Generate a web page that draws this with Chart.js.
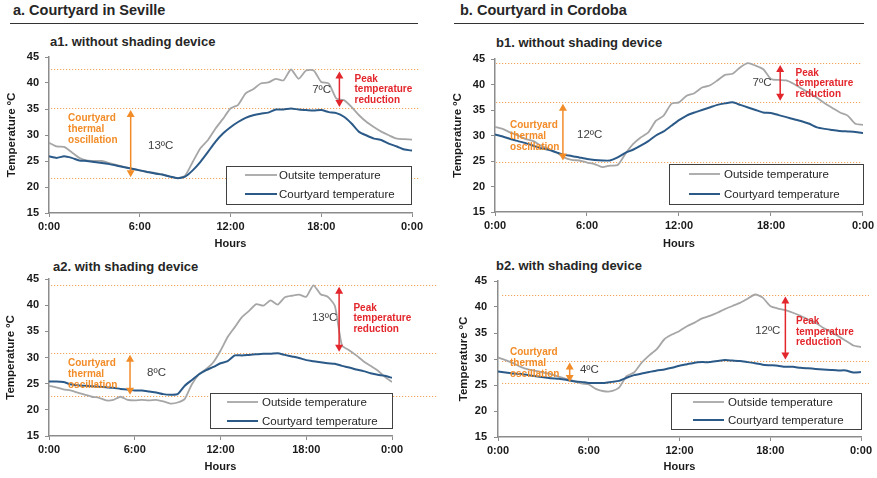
<!DOCTYPE html>
<html><head><meta charset="utf-8">
<script src="https://cdn.jsdelivr.net/npm/chart.js@4/dist/chart.umd.min.js"></script>
<style>
body{margin:0;background:#fff;width:877px;height:478px;position:relative;overflow:hidden;font-family:"Liberation Sans",Arial,sans-serif;}
.h{position:absolute;font-weight:bold;color:#262626;white-space:nowrap;line-height:1;}
.rule{position:absolute;height:0;border-top:1.5px solid #333;}
canvas{position:absolute;}
</style></head><body>
<div class="h" style="left:13px;top:3px;font-size:14.5px">a. Courtyard in Seville</div>
<div class="h" style="left:460px;top:3px;font-size:14.5px">b. Courtyard in Cordoba</div>
<div class="rule" style="left:10px;top:23px;width:408px"></div>
<div class="rule" style="left:454px;top:23px;width:410px"></div>
<div class="h" style="left:50px;top:35px;font-size:13px">a1. without shading device</div>
<div class="h" style="left:496px;top:36px;font-size:13px">b1. without shading device</div>
<div class="h" style="left:53px;top:260px;font-size:13px">a2. with shading device</div>
<div class="h" style="left:496px;top:259px;font-size:13px">b2. with shading device</div>
<canvas id="a1"></canvas><canvas id="b1"></canvas><canvas id="a2"></canvas><canvas id="b2"></canvas>
<script>
// ---- data ----
const hours = [0,0.5,1,1.5,2,2.5,3,3.5,4,4.5,5,5.5,6,6.5,7,7.5,8,8.5,9,9.5,10,10.5,11,11.5,12,12.5,13,13.5,14,14.5,15,15.5,16,16.5,17,17.5,18,18.5,19,19.5,20,20.5,21,21.5,22,22.5,23,23.5,24];
const tickLabels = ['0:00','6:00','12:00','18:00','0:00'];

const a1Outside = [28.5,27.8,27.7,26.7,25.6,25.1,25.0,25.0,24.6,24.2,23.8,23.5,23.2,22.9,22.7,22.4,22.0,21.7,22.2,24.8,27.4,29.0,31.2,33.1,35.1,35.8,38.0,38.8,39.9,40.1,40.8,40.5,42.6,40.8,42.4,42.4,40.2,39.9,37.0,36.7,35.4,33.8,32.5,31.5,30.6,29.9,29.3,29.2,29.1];
const a1Courtyard = [25.9,25.6,25.9,25.6,25.1,25.0,24.8,24.6,24.4,24.1,23.8,23.5,23.2,22.9,22.6,22.4,22.0,21.7,22.0,23.2,24.8,26.7,28.7,30.3,31.5,32.5,33.3,33.8,34.1,34.3,34.9,34.9,35.1,34.9,34.8,34.7,34.8,34.4,34.2,33.5,32.2,30.6,29.9,29.3,29.0,28.3,27.8,27.2,27.0];
const b1Outside = [31.7,31.3,30.6,30.0,29.3,28.9,28.0,27.4,26.7,25.7,25.2,25.1,24.7,24.4,23.8,24.1,24.2,26.4,28.3,29.6,30.6,32.9,33.9,36.2,36.5,37.8,38.3,39.4,39.8,40.8,41.9,42.1,43.4,44.2,43.7,43.0,41.1,40.9,40.8,40.1,39.2,38.3,37.4,36.3,35.4,34.5,33.9,32.3,32.1];
const b1Courtyard = [30.2,29.8,29.3,28.9,28.5,28.0,27.5,27.2,26.7,26.2,26.0,25.7,25.4,25.2,25.1,25.1,25.7,26.6,27.2,28.0,28.9,30.0,30.8,31.9,33.0,33.9,34.5,35.0,35.5,36.0,36.3,36.5,36.0,35.5,35.0,34.5,34.4,34.0,33.6,33.2,32.8,32.3,31.6,31.3,31.1,30.9,30.8,30.7,30.5];
const a2Outside = [24.6,24.3,23.9,23.7,23.3,22.9,22.5,22.3,21.8,21.9,22.5,21.9,21.8,21.9,21.8,21.9,21.6,21.2,21.4,22.1,24.9,26.8,27.8,29.1,31.3,33.9,35.8,37.7,38.9,40.2,39.9,40.9,40.1,41.5,41.8,42.0,41.6,43.8,42.1,41.6,39.9,32.3,31.4,30.4,29.3,28.4,27.5,26.3,25.3];
const a2Courtyard = [25.4,25.4,25.3,24.9,24.7,24.6,24.5,24.4,24.3,24.2,24.0,23.9,23.7,23.7,23.5,23.3,23.0,22.9,23.0,24.6,25.7,26.8,27.6,28.2,28.9,29.3,30.4,30.4,30.5,30.6,30.7,30.7,30.8,30.5,30.2,29.9,29.5,29.3,29.1,28.9,28.8,28.4,28.1,27.7,27.4,27.0,26.7,26.5,26.1];
const b2Outside = [30.3,29.8,29.2,28.5,28.0,27.7,27.4,27.1,26.6,26.2,25.8,25.3,25.1,24.2,23.8,23.8,24.5,26.7,27.4,29.3,30.7,31.9,33.8,34.7,35.4,36.3,37.0,37.8,38.3,38.9,39.6,40.2,40.8,41.6,42.4,41.8,40.2,39.7,39.4,38.9,38.3,37.6,37.0,36.0,35.2,34.4,33.5,32.6,32.3];
const b2Courtyard = [27.6,27.4,27.2,27.1,26.9,26.7,26.5,26.3,26.2,26.0,25.7,25.6,25.4,25.4,25.4,25.6,25.8,26.4,26.9,27.2,27.5,27.8,28.0,28.3,28.7,29.0,29.3,29.4,29.4,29.6,29.8,29.7,29.6,29.4,29.2,28.9,28.8,28.7,28.5,28.5,28.3,28.2,28.1,28.0,27.9,27.8,27.8,27.4,27.5];

// reference levels [peak outside, peak courtyard, minimum]
const a1Levels = [42.6, 35.2, 21.7];
const b1Levels = [44.2, 36.6, 24.9];
const a2Levels = [43.9, 30.9, 22.7];
const b2Levels = [42.4, 29.7, 25.4];
const a1Diffs = ['13ºC', '7ºC'];
const b1Diffs = ['12ºC', '7ºC'];
const a2Diffs = ['8ºC', '13ºC'];
const b2Diffs = ['4ºC', '12ºC'];
const outsideNames = ['Outsite temperature', 'Outside temperature', 'Outside temperature', 'Outside temperature'];
const courtyardName = 'Courtyard temperature';
const oscText = ['Courtyard', 'thermal', 'oscillation'];
const peakText = ['Peak', 'temperature', 'reduction'];

// ---- layout ----
const FONT = '"Liberation Sans", Arial, sans-serif';
const GRAY = '#a6a6a6', BLUE = '#2b5a88', ORANGE = '#f28c28', RED = '#e3262c', DOT = '#f5a55a';
const panels = [
  {id:'a1', left:0, top:30, w:437, h:225, padTop:27, padRight:25, yW:49, xH:42, yTitlePad:5, yTickPad:6,
   out:a1Outside, cy:a1Courtyard, levels:a1Levels, diffs:a1Diffs, outName:outsideNames[0],
   dotL:2, dotR:8, oscH:5.4, peakH:19.2, oscPos:[1.26,33.3], oscVal:[6.55,27.9], peakVal:[17.4,38.7], peakPos:[20.2,40.8],
   leg:{x:226,y:166,w:185,h:38,l0:19,l1:51,tx:53,r1:9,r2:28}},
  {id:'b1', left:437, top:30, w:440, h:225, padTop:29, padRight:14, yW:58, xH:43, yTitlePad:14, yTickPad:6,
   out:b1Outside, cy:b1Courtyard, levels:b1Levels, diffs:b1Diffs, outName:outsideNames[1],
   dotL:1, dotR:-2, oscH:4.43, peakH:18.6, oscPos:[0.98,32.1], oscVal:[5.35,30.1], peakVal:[16.8,40.3], peakPos:[19.6,42.3],
   leg:{x:669,y:164,w:194,h:40,l0:20,l1:51,tx:55,r1:10,r2:30}},
  {id:'a2', left:0, top:255, w:437, h:223, padTop:24, padRight:45, yW:49, xH:42, yTitlePad:4, yTickPad:6,
   out:a2Outside, cy:a2Courtyard, levels:a2Levels, diffs:a2Diffs, outName:outsideNames[2],
   dotL:2, dotR:45, oscH:5.67, peakH:20.3, oscPos:[1.33,28.9], oscVal:[6.86,27.0], peakVal:[18.4,37.5], peakPos:[21.3,39.5],
   leg:{x:210,y:393,w:182,h:35,l0:17,l1:48,tx:52,r1:9,r2:28}},
  {id:'b2', left:437, top:255, w:440, h:223, padTop:26, padRight:16, yW:61, xH:41, yTitlePad:20, yTickPad:7,
   out:b2Outside, cy:b2Courtyard, levels:b2Levels, diffs:b2Diffs, outName:outsideNames[3],
   dotL:4, dotR:8, oscH:4.74, peakH:19.0, oscPos:[0.79,31.3], oscVal:[5.42,27.9], peakVal:[17.0,35.4], peakPos:[19.7,37.3],
   leg:{x:671,y:393,w:190,h:36,l0:22,l1:53,tx:57,r1:9,r2:27}}
];

function drawArrow(ctx, x, yTop, yBot, color){
  const hw = 4, hl = 7;
  ctx.save();
  ctx.strokeStyle = color; ctx.fillStyle = color; ctx.lineWidth = 1.5;
  ctx.beginPath(); ctx.moveTo(x, yTop + hl - 1); ctx.lineTo(x, yBot - hl + 1); ctx.stroke();
  ctx.beginPath(); ctx.moveTo(x, yTop); ctx.lineTo(x - hw, yTop + hl); ctx.lineTo(x + hw, yTop + hl); ctx.closePath(); ctx.fill();
  ctx.beginPath(); ctx.moveTo(x, yBot); ctx.lineTo(x - hw, yBot - hl); ctx.lineTo(x + hw, yBot - hl); ctx.closePath(); ctx.fill();
  ctx.restore();
}
function textLines(ctx, lines, x, y, lh){
  lines.forEach((t, i) => ctx.fillText(t, x, y + i * lh));
}

function makePlugin(p){
  return {
    id: 'annot_' + p.id,
    beforeDatasetsDraw(chart){
      const ctx = chart.ctx, ys = chart.scales.y, a = chart.chartArea;
      ctx.save();
      ctx.strokeStyle = DOT; ctx.lineWidth = 1; ctx.setLineDash([1.2, 1.8]);
      p.levels.forEach(v => {
        const y = Math.round(ys.getPixelForValue(v)) + 0.5;
        ctx.beginPath(); ctx.moveTo(a.left + p.dotL, y); ctx.lineTo(a.right + p.dotR, y); ctx.stroke();
      });
      ctx.restore();
    },
    afterDatasetsDraw(chart){
      const ctx = chart.ctx, xs = chart.scales.x, ys = chart.scales.y;
      const L = p.levels;
      // arrows
      drawArrow(ctx, xs.getPixelForValue(p.oscH), ys.getPixelForValue(L[1]) + 2, ys.getPixelForValue(L[2]) - 1, ORANGE);
      drawArrow(ctx, xs.getPixelForValue(p.peakH), ys.getPixelForValue(L[0]) + 2, ys.getPixelForValue(L[1]) - 1, RED);
      ctx.save();
      ctx.textAlign = 'left'; ctx.textBaseline = 'middle';
      ctx.font = 'bold 10px ' + FONT;
      ctx.fillStyle = ORANGE;
      textLines(ctx, oscText, xs.getPixelForValue(p.oscPos[0]), ys.getPixelForValue(p.oscPos[1]), 11);
      ctx.fillStyle = RED;
      textLines(ctx, peakText, xs.getPixelForValue(p.peakPos[0]), ys.getPixelForValue(p.peakPos[1]), 10.8);
      ctx.font = '11.5px ' + FONT;
      ctx.fillStyle = '#404040';
      ctx.fillText(p.diffs[0], xs.getPixelForValue(p.oscVal[0]), ys.getPixelForValue(p.oscVal[1]));
      ctx.fillText(p.diffs[1], xs.getPixelForValue(p.peakVal[0]), ys.getPixelForValue(p.peakVal[1]));
      ctx.restore();
      // legend
      const g = p.leg, lx = g.x - p.left, ly = g.y - p.top;
      ctx.save();
      ctx.fillStyle = '#fff'; ctx.fillRect(lx, ly, g.w, g.h);
      ctx.strokeStyle = '#404040'; ctx.lineWidth = 1;
      ctx.strokeRect(Math.round(lx) + 0.5, Math.round(ly) + 0.5, g.w, g.h);
      const ds = chart.data.datasets;
      const rows = [[ds[1], g.r1], [ds[0], g.r2]];
      ctx.font = '11.5px ' + FONT; ctx.textBaseline = 'middle'; ctx.textAlign = 'left';
      rows.forEach(([d, r]) => {
        ctx.strokeStyle = d.borderColor; ctx.lineWidth = d.borderWidth;
        ctx.beginPath(); ctx.moveTo(lx + g.l0, ly + r); ctx.lineTo(lx + g.l1, ly + r); ctx.stroke();
        ctx.fillStyle = '#262626';
        ctx.fillText(d.label, lx + g.tx, ly + r + 0.5);
      });
      ctx.restore();
    }
  };
}

panels.forEach(p => {
  const cv = document.getElementById(p.id);
  cv.width = p.w; cv.height = p.h;
  cv.style.left = p.left + 'px'; cv.style.top = p.top + 'px';
  cv.style.width = p.w + 'px'; cv.style.height = p.h + 'px';
  const axisColor = '#8c8c8c';
  const tickFont = {family: FONT, size: 11, weight: 'bold'};
  new Chart(cv.getContext('2d'), {
    type: 'line',
    data: {
      datasets: [
        {label: courtyardName, data: hours.map((h, i) => ({x: h, y: p.cy[i]})), borderColor: BLUE, borderWidth: 2, pointRadius: 0, tension: 0.2, fill: false},
        {label: p.outName, data: hours.map((h, i) => ({x: h, y: p.out[i]})), borderColor: GRAY, borderWidth: 1.8, pointRadius: 0, tension: 0.2, fill: false}
      ]
    },
    options: {
      responsive: false, animation: false, devicePixelRatio: 1,
      layout: {padding: {left: 0, right: p.padRight, top: p.padTop, bottom: 0}},
      plugins: {legend: {display: false}, tooltip: {enabled: false}},
      scales: {
        x: {
          type: 'linear', min: 0, max: 24,
          ticks: {stepSize: 6, autoSkip: false, maxRotation: 0, padding: 3, color: '#1a1a1a', font: tickFont,
                  callback: (v, i) => tickLabels[i]},
          grid: {drawOnChartArea: false, drawTicks: true, tickLength: 4, color: axisColor},
          border: {color: axisColor, width: 1.5},
          title: {display: true, text: 'Hours', color: '#1a1a1a', font: tickFont, padding: {top: 0, bottom: 4}},
          afterFit: s => { s.height = p.xH; }
        },
        y: {
          min: 15, max: 45,
          ticks: {stepSize: 5, padding: p.yTickPad, color: '#1a1a1a', font: tickFont},
          grid: {drawOnChartArea: false, drawTicks: true, tickLength: 4, color: axisColor},
          border: {color: axisColor, width: 1.5},
          title: {display: true, text: 'Temperature ºC', color: '#1a1a1a', font: {family: FONT, size: 11.5, weight: 'bold'}, padding: {top: p.yTitlePad, bottom: 0}},
          afterFit: s => { s.width = p.yW; }
        }
      }
    },
    plugins: [makePlugin(p)]
  });
});
</script>
</body></html>
